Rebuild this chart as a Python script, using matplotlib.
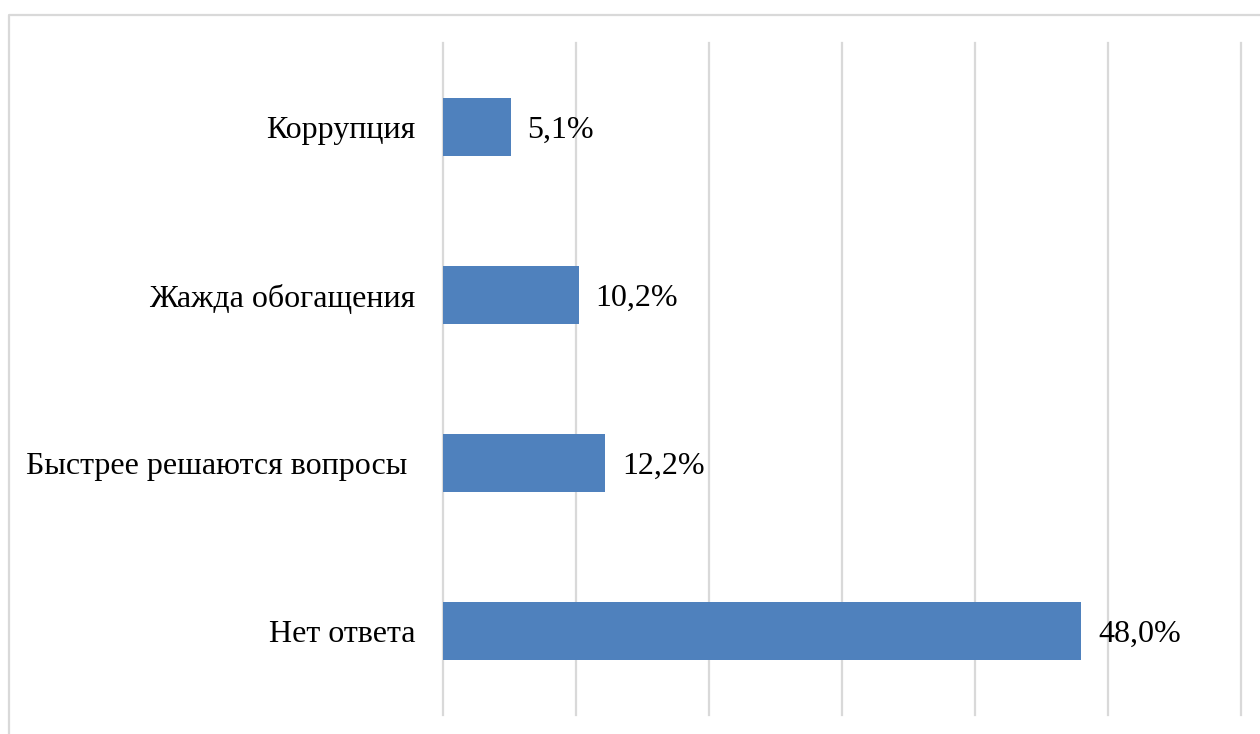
import matplotlib.pyplot as plt
from matplotlib.lines import Line2D

categories = ["Коррупция", "Жажда обогащения", "Быстрее решаются вопросы ", "Нет ответа"]
values = [5.1, 10.2, 12.2, 48.0]
labels = ["5,1%", "10,2%", "12,2%", "48,0%"]

plt.rcParams['font.family'] = ['Liberation Serif', 'DejaVu Serif']

W, H = 1260, 734
fig = plt.figure(figsize=(W / 100, H / 100), dpi=100)
ax = fig.add_axes([443 / W, 1 - 715 / H, (1241 - 443) / W, (715 - 43) / H])

y = list(range(len(categories)))
ax.barh(y, values, height=0.35, color='#4f81bd', zorder=3)
for yi, v, lab in zip(y, values, labels):
    ax.text(v + 1.25, yi, lab, va='center_baseline', ha='left', fontsize=23, color='black')

ax.set_xlim(0, 60)
ax.set_ylim(3.5, -0.5)
ax.set_xticks(range(0, 61, 10))
ax.set_xticklabels([])
ax.set_yticks(y)
ax.set_yticklabels(categories, fontsize=23, va='center_baseline')
ax.tick_params(axis='both', length=0)
ax.tick_params(axis='y', pad=20)
ax.grid(axis='x', color='#d9d9d9', linewidth=1.6, zorder=0)
for gl in ax.get_xgridlines():
    gl.set_clip_on(False)
for s in ax.spines.values():
    s.set_visible(False)

# outer frame of the chart area (left and top edges)
fig.add_artist(Line2D([9 / W, 9 / W, 1], [0, 1 - 15 / H, 1 - 15 / H],
                      transform=fig.transFigure, color='#d9d9d9', linewidth=1.6))

fig.savefig('out.png', dpi=100)
